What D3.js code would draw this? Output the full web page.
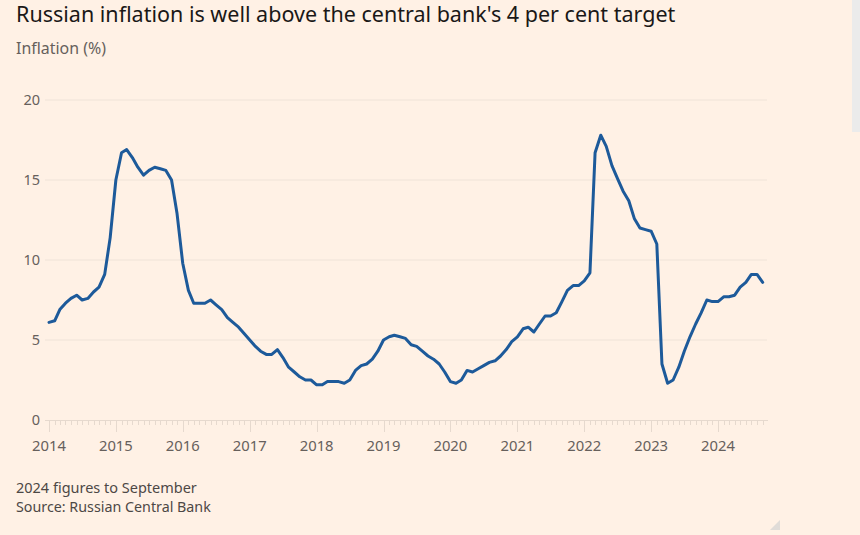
<!DOCTYPE html>
<html><head><meta charset="utf-8">
<script src="https://cdn.jsdelivr.net/npm/d3@7"></script>
<style>
html,body{margin:0;padding:0;background:#FFF1E5;}
svg{display:block;}
text{font-family:"Noto Sans","Open Sans",sans-serif;}
</style></head>
<body>
<svg id="c" width="860" height="535"></svg>
<script>
const startYear = 2014;
const inflation2014 = [6.1,6.2,6.9,7.3,7.6,7.8,7.5,7.6,8.0,8.3,9.1,11.4];
const inflation2015 = [15.0,16.7,16.9,16.4,15.8,15.3,15.6,15.8,15.7,15.6,15.0,12.9];
const inflation2016 = [9.8,8.1,7.3,7.3,7.3,7.5,7.2,6.9,6.4,6.1,5.8,5.4];
const inflation2017 = [5.0,4.6,4.3,4.1,4.1,4.4,3.9,3.3,3.0,2.7,2.5,2.5];
const inflation2018 = [2.2,2.2,2.4,2.4,2.4,2.3,2.5,3.1,3.4,3.5,3.8,4.3];
const inflation2019 = [5.0,5.2,5.3,5.2,5.1,4.7,4.6,4.3,4.0,3.8,3.5,3.0];
const inflation2020 = [2.4,2.3,2.5,3.1,3.0,3.2,3.4,3.6,3.7,4.0,4.4,4.9];
const inflation2021 = [5.2,5.7,5.8,5.5,6.0,6.5,6.5,6.7,7.4,8.1,8.4,8.4];
const inflation2022 = [8.7,9.2,16.7,17.8,17.1,15.9,15.1,14.3,13.7,12.6,12.0,11.9];
const inflation2023 = [11.8,11.0,3.5,2.3,2.5,3.3,4.3,5.2,6.0,6.7,7.5,7.4];
const inflation2024 = [7.4,7.7,7.7,7.8,8.3,8.6,9.1,9.1,8.6];
const yTicks = [0,5,10,15,20];
const xTickYears = [2014,2015,2016,2017,2018,2019,2020,2021,2022,2023,2024];

const years = [inflation2014,inflation2015,inflation2016,inflation2017,inflation2018,inflation2019,inflation2020,inflation2021,inflation2022,inflation2023,inflation2024];
const data = [];
years.forEach((arr,i)=>arr.forEach((v,m)=>data.push({date:new Date(startYear+i,m,1),v})));

const svg = d3.select("#c");
const W=860,H=535;
svg.append("rect").attr("width",W).attr("height",H).attr("fill","#FFF1E5");

const x = d3.scaleTime().domain([new Date(2014,0,1),new Date(2024,0,1)]).range([49,718]);
const y = d3.scaleLinear().domain([0,20]).range([420,100]);
const gridL=45, gridR=767;

function fit(sel, base, target){
  const w = sel.node().getComputedTextLength();
  sel.attr("font-size", base*target/w);
}

// title
const title = svg.append("text").attr("x",16).attr("y",22).attr("font-size",20).attr("fill","#1a1817")
  .text("Russian inflation is well above the central bank's 4 per cent target");
fit(title,20,660);
const sub = svg.append("text").attr("x",16).attr("y",54).attr("font-size",15).attr("fill","#66605c").text("Inflation (%)");
fit(sub,15,90);

// gridlines
svg.append("g").selectAll("line").data(yTicks.filter(d=>d>0)).join("line")
  .attr("x1",gridL).attr("x2",gridR).attr("y1",d=>y(d)).attr("y2",d=>y(d))
  .attr("stroke","#efe3d8").attr("stroke-width",1);
svg.append("g").selectAll("text").data(yTicks).join("text")
  .attr("x",40).attr("y",d=>y(d)+5).attr("text-anchor","end").attr("font-size",14.5).attr("fill","#66605c").text(d=>d);

// x axis
const monthTicks = d3.timeMonth.range(new Date(2014,0,1), new Date(2024,9,1));
svg.append("line").attr("x1",gridL).attr("x2",gridR+1).attr("y1",420.5).attr("y2",420.5).attr("stroke","#e6d9ce");
svg.append("g").selectAll("line").data(monthTicks).join("line")
  .attr("x1",d=>Math.round(x(d))+0.5).attr("x2",d=>Math.round(x(d))+0.5)
  .attr("y1",420).attr("y2",d=>d.getMonth()===0?432:425)
  .attr("stroke","#e6d9ce").attr("stroke-width",1);
svg.append("g").selectAll("text").data(xTickYears).join("text")
  .attr("x",d=>x(new Date(d,0,1))).attr("y",451).attr("text-anchor","middle")
  .attr("font-size",14.8).attr("fill","#66605c").text(d=>d);

// line
const line = d3.line().x(d=>x(d.date)).y(d=>y(d.v));
svg.append("path").datum(data).attr("d",line).attr("fill","none")
  .attr("stroke","#1d5a9a").attr("stroke-width",3).attr("stroke-linejoin","round").attr("stroke-linecap","round");

// footer
const f1 = svg.append("text").attr("x",16).attr("y",493).attr("font-size",14).attr("fill","#4d4845").text("2024 figures to September");
fit(f1,14,181);
const f2 = svg.append("text").attr("x",16).attr("y",512).attr("font-size",14).attr("fill","#4d4845").text("Source: Russian Central Bank");
fit(f2,14,195);

// screenshot artefacts
svg.append("rect").attr("x",852).attr("y",0).attr("width",8).attr("height",132).attr("fill","#ebebeb");
svg.append("path").attr("d","M770,530 L780,530 L780,520 Z").attr("fill","#e0dcd8");
</script>
</body></html>
